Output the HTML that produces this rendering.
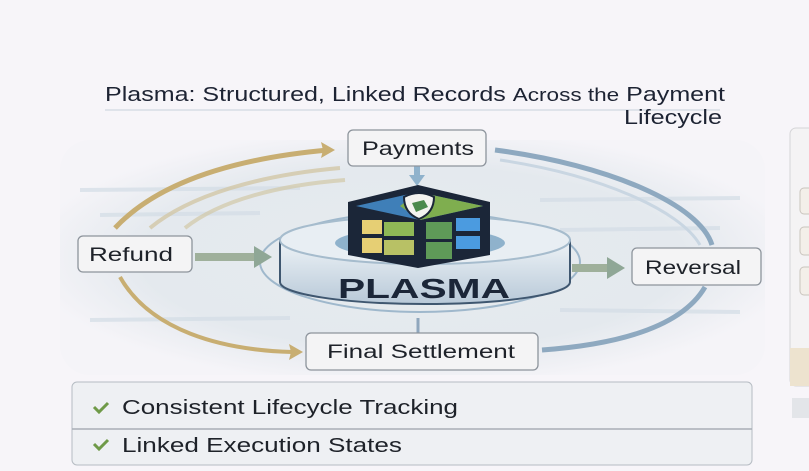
<!DOCTYPE html>
<html><head><meta charset="utf-8"><style>
html,body{margin:0;padding:0;background:#f7f5f9;}
svg{display:block;}
text{font-family:"Liberation Sans","DejaVu Sans",sans-serif;}
</style></head><body>
<svg width="809" height="471" viewBox="0 0 809 471" xmlns="http://www.w3.org/2000/svg">
<defs>
<radialGradient id="bg" cx="50%" cy="50%" r="55%">
<stop offset="0" stop-color="#e6ebee"/><stop offset="0.7" stop-color="#e4e9ee"/><stop offset="1" stop-color="#f5f4f8"/>
</radialGradient>
<linearGradient id="cyl" x1="0" y1="0" x2="0" y2="1">
<stop offset="0" stop-color="#eef3f7"/><stop offset="1" stop-color="#b8c9d8"/>
</linearGradient>
</defs>
<rect width="809" height="471" fill="#f7f5f9"/>
<rect x="60" y="140" width="705" height="235" fill="url(#bg)" rx="30"/>
<g stroke="#d3dde6" stroke-width="4" opacity="0.7">
<line x1="80" y1="190" x2="300" y2="188"/><line x1="90" y1="320" x2="290" y2="318"/>
<line x1="540" y1="200" x2="740" y2="198"/><line x1="560" y1="310" x2="740" y2="312"/>
<line x1="100" y1="215" x2="260" y2="213"/><line x1="560" y1="230" x2="720" y2="228"/>
</g>
<!-- title -->
<line x1="105" y1="110" x2="720" y2="110" stroke="#dfe3ea" stroke-width="2"/>
<text x="105" y="101" font-size="20" fill="#1d2333" textLength="620" lengthAdjust="spacingAndGlyphs">Plasma: Structured, Linked Records <tspan font-size="18">Across the</tspan> Payment</text>
<text x="624" y="124" font-size="20" fill="#1d2333" textLength="98" lengthAdjust="spacingAndGlyphs">Lifecycle</text>
<!-- right panel -->
<rect x="790" y="128" width="30" height="258" rx="6" fill="#f4f3f4" stroke="#d5d5d8"/>
<rect x="800" y="188" width="20" height="26" rx="4" fill="#f3efe9" stroke="#c9c4bd"/>
<rect x="800" y="227" width="20" height="28" rx="4" fill="#f3efe9" stroke="#c9c4bd"/>
<rect x="800" y="267" width="20" height="28" rx="4" fill="#f3efe9" stroke="#c9c4bd"/>
<rect x="790" y="348" width="30" height="38" fill="#ede3cf"/>
<rect x="792" y="398" width="20" height="20" fill="#e3e5e9"/>
<!-- arcs -->
<path d="M115 228 C160 180 240 158 328 150" fill="none" stroke="#c8ae72" stroke-width="5"/>
<path d="M335 150 l-14 -8 l2 8 l-2 8 z" fill="#c8ae72"/>
<path d="M150 228 C190 195 260 175 340 168" fill="none" stroke="#d2c7a6" stroke-width="4" opacity="0.8"/>
<path d="M185 228 C220 200 280 185 345 180" fill="none" stroke="#d2c7a6" stroke-width="4" opacity="0.7"/>
<path d="M120 277 C150 330 220 350 292 352" fill="none" stroke="#c8ae72" stroke-width="4"/>
<path d="M303 352 l-14 -8 l2 8 l-2 8 z" fill="#c8ae72"/>
<path d="M495 150 C610 165 700 205 712 245" fill="none" stroke="#8ea9c0" stroke-width="5"/>
<path d="M705 287 C680 330 610 345 542 350" fill="none" stroke="#8ea9c0" stroke-width="5"/>
<path d="M500 160 C600 175 680 210 700 245" fill="none" stroke="#c9d6e2" stroke-width="3"/>
<!-- platform -->
<ellipse cx="420" cy="262" rx="160" ry="50" fill="none" stroke="#9fb8cc" stroke-width="2"/>
<path d="M280 240 L280 282 A145 22 0 0 0 570 282 L570 240 Z" fill="url(#cyl)" stroke="#3f5770" stroke-width="2"/>
<ellipse cx="425" cy="240" rx="145" ry="24" fill="#e8eef3" stroke="#a6bccd" stroke-width="2"/>
<ellipse cx="420" cy="243" rx="85" ry="15" fill="#8fb2cc"/>
<!-- green arrows -->
<rect x="195" y="253" width="60" height="8" fill="#9fb09b"/>
<path d="M272 257 l-18 -11 v22 z" fill="#8fa796"/>
<rect x="572" y="264" width="38" height="8" fill="#9fb09b"/>
<path d="M625 268 l-18 -11 v22 z" fill="#8fa796"/>
<rect x="414" y="166" width="6" height="10" fill="#8fb2cc"/>
<path d="M417 186 l-8 -11 h16 z" fill="#8fb2cc"/>
<!-- cube -->
<path d="M348 202 L418 185 L490 202 L490 255 L418 268 L348 255 Z" fill="#1b2638"/>
<path d="M356 206 L418 192 L483 206 L420 220 Z" fill="#3f7fb8"/>
<path d="M418 192 L483 206 L420 220 L400 206 Z" fill="#7fae4f"/>
<path d="M404 197 q15 -8 30 0 q0 16 -15 22 q-15 -6 -15 -22z" fill="#f3f3f0" stroke="#1b2638" stroke-width="2"/>
<path d="M412 203 l12 -3 l4 7 l-12 5 z" fill="#4b8a4d"/>
<rect x="362" y="220" width="20" height="14" fill="#e6cf74"/><rect x="384" y="222" width="30" height="14" fill="#8fb856"/>
<rect x="362" y="238" width="20" height="15" fill="#e6cf74"/><rect x="384" y="240" width="30" height="15" fill="#b8c165"/>
<rect x="426" y="222" width="26" height="17" fill="#5f9a58"/><rect x="456" y="218" width="24" height="13" fill="#4b9be0"/>
<rect x="426" y="242" width="26" height="17" fill="#5f9a58"/><rect x="456" y="236" width="24" height="13" fill="#4b9be0"/>
<text x="338" y="298" font-size="28" font-weight="bold" fill="#1b2638" textLength="172" lengthAdjust="spacingAndGlyphs">PLASMA</text>
<line x1="418" y1="318" x2="418" y2="334" stroke="#8fa7bd" stroke-width="3"/>
<!-- boxes -->
<g stroke="#8d949c" stroke-width="1.3" fill="#f4f4f5">
<rect x="348" y="130" width="138" height="36" rx="5"/>
<rect x="78" y="236" width="114" height="36" rx="5"/>
<rect x="632" y="248" width="129" height="37" rx="5"/>
<rect x="306" y="333" width="232" height="37" rx="5"/>
</g>
<g font-size="19" fill="#1e2229" lengthAdjust="spacingAndGlyphs">
<text x="362" y="155" textLength="112" lengthAdjust="spacingAndGlyphs">Payments</text>
<text x="89" y="261" textLength="84" lengthAdjust="spacingAndGlyphs">Refund</text>
<text x="645" y="274" textLength="96" lengthAdjust="spacingAndGlyphs">Reversal</text>
<text x="327" y="358" textLength="188" lengthAdjust="spacingAndGlyphs">Final Settlement</text>
</g>
<!-- bottom panel -->
<rect x="72" y="382" width="680" height="83" rx="5" fill="#eef0f3" stroke="#b6bcc3"/>
<line x1="72" y1="429" x2="752" y2="429" stroke="#a8aeb6" stroke-width="1.5"/>
<path d="M94 407 l5 5 l9 -9" fill="none" stroke="#6f9a48" stroke-width="3"/>
<path d="M94 444 l5 5 l9 -9" fill="none" stroke="#6f9a48" stroke-width="3"/>
<text x="122" y="414" font-size="20" fill="#1e2229" textLength="336" lengthAdjust="spacingAndGlyphs">Consistent Lifecycle Tracking</text>
<text x="122" y="452" font-size="20" fill="#1e2229" textLength="280" lengthAdjust="spacingAndGlyphs">Linked Execution States</text>
</svg>
</body></html>
